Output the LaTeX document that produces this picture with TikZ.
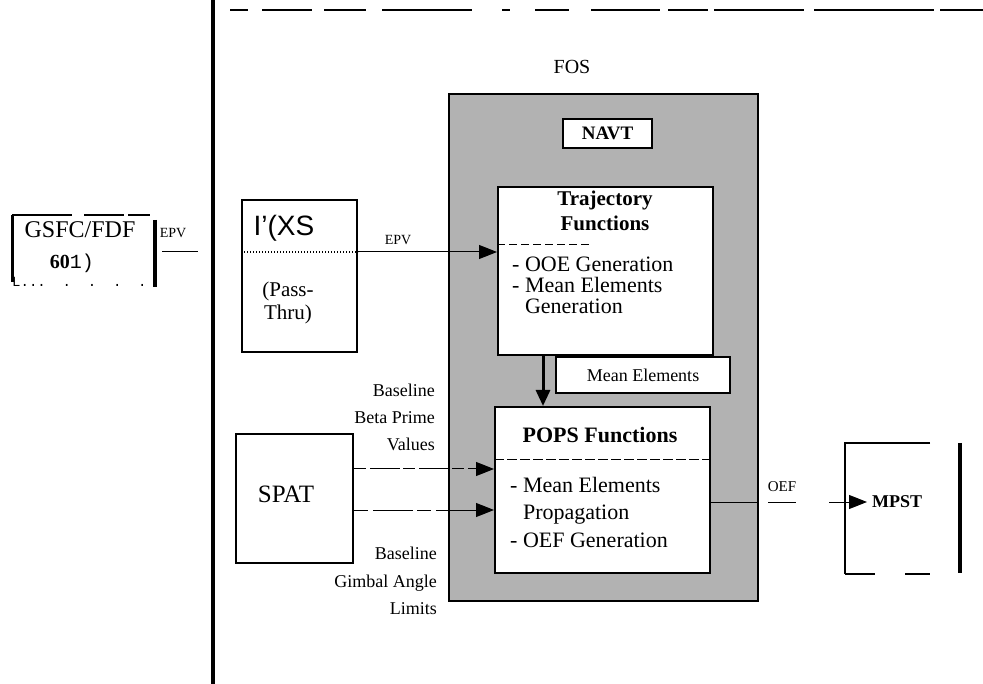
\documentclass[tikz,border=0pt]{standalone}
\usepackage{fontspec}
\setmainfont{Liberation Serif}
\setsansfont{Liberation Sans}
\setmonofont{Liberation Mono}
\usetikzlibrary{arrows.meta}
\newcommand\myfs[2]{\fontsize{#1}{#2}\selectfont}
\begin{document}
\begin{tikzpicture}[x=1pt,y=-1pt,
  shadebox/.style={draw, line width=2pt, fill=black!30, inner sep=0pt},
  whitebox/.style={draw, line width=2pt, fill=white, inner sep=0pt},
  txt/.style={inner sep=0pt},
  conn/.style={line width=1pt},
  bigtip/.style={-{Triangle[length=18pt,width=14pt]}},
  thickbar/.style={line width=3.5pt}
]
\fill[white] (0,0) rectangle (983,684);
\useasboundingbox (0,0) rectangle (983,684);

% frame lines
\coordinate (tl) at (230,10);
\coordinate (tm) at (600,10);
\coordinate (tr) at (983,10);
\draw[line width=1.4pt, dash pattern=on 18pt off 14pt on 50pt off 12pt on 42pt off 16pt on 90pt off 30pt on 8pt off 25pt on 34pt off 22pt]
  (tl) -- (tm);
\draw[line width=2pt, dash pattern=on 60pt off 8pt on 40pt off 6pt on 90pt off 10pt on 120pt off 6pt] (tm) -- (tr);
\coordinate (vt) at (213,0);
\coordinate (vb) at (213,684);
\draw[thickbar] (vt) -- (vb);

% title
\node[txt, font=\myfs{20}{22}] (fostitle) at (572,67) {FOS};

% big shaded box
\node[shadebox, anchor=north west, minimum width=309pt, minimum height=507pt] (fos) at (448,93) {};

\node[whitebox, minimum width=89pt, minimum height=29pt, font=\myfs{19}{21}\bfseries] (navt) at (607.5,133.5) {NAVT};

% trajectory box
\node[whitebox, minimum width=215pt, minimum height=168pt] (traj) at (605.5,271) {};
\node[txt, align=center, font=\myfs{21}{25}\bfseries] (trajt) at (605,211) {Trajectory\\Functions};
\node[txt, align=left, anchor=west, font=\myfs{22}{21}] (trajb) at (512,285) {- OOE Generation\\- Mean Elements\\\phantom{- }Generation};
\coordinate (tdiv) at (590,245);
\draw[conn, dash pattern=on 8pt off 4pt] (traj.west |- tdiv) -- (tdiv);

% mean elements label box
\node[whitebox, line width=1.5pt, minimum width=174pt, minimum height=36pt, font=\myfs{18}{20}] (meanel) at (643,375) {Mean Elements};

% pops box
\node[whitebox, minimum width=215pt, minimum height=166pt] (pops) at (602.5,490) {};
\node[txt, anchor=base, font=\myfs{22}{24}\bfseries] (popst) at (600,443) {POPS Functions};
\node[txt, align=left, anchor=west, font=\myfs{22}{27.5}] (popsb) at (510,512) {- Mean Elements\\\phantom{- }Propagation\\- OEF Generation};
\coordinate (pdiv) at (0,460);
\draw[conn, dash pattern=on 10pt off 3pt] (pops.west |- pdiv) -- (pops.east |- pdiv);

% arrow trajectory -> pops
\coordinate (dn) at (543,0);
\draw[line width=3pt, -{Triangle[length=16pt,width=14pt]}] (traj.south -| dn) -- (pops.north -| dn);

% I'(XS box
\node[whitebox, minimum width=115pt, minimum height=152pt] (ixs) at (299.5,276) {};
\node[txt, font=\sffamily\myfs{28}{30}] (ixst) at (284,228) {I'(XS};
\node[txt, align=center, font=\myfs{21}{23}] (pass) at (288,303) {(Pass-\\Thru)};
\coordinate (idiv) at (0,252);
\draw[conn, dotted, line width=1.3pt] (ixs.west |- idiv) -- (ixs.east |- idiv);

% EPV arrow
\draw[conn, bigtip] (ixs.east |- idiv) -- (traj.west |- idiv);
\node[txt, font=\myfs{14}{16}] (epv2) at (398,240) {EPV};

% GSFC box
\coordinate (gtl) at (12,215);
\coordinate (gbl) at (12,282);
\coordinate (gtr) at (150,215);
\coordinate (grt) at (155,220);
\coordinate (grb) at (155,287);
\draw[line width=3pt] (gbl) -- (gtl);
\draw[line width=1.5pt, dash pattern=on 60pt off 12pt on 40pt off 4pt] (gtl) -- (gtr);
\draw[thickbar] (grt) -- (grb);
\node[txt, font=\myfs{24}{26}] (gsfc) at (80,230) {GSFC/FDF};
\node[txt, font=\myfs{20}{22}] (gsfc2) at (72,263) {\textbf{60}\ttfamily 1)};
\node[txt, anchor=base west, font=\ttfamily\myfs{14}{16}] (gdots) at (12,287) {L...\ \ .\ \ .\ \ .\ \ .};
\node[txt, font=\myfs{14}{16}] (epv1) at (173,233) {EPV};
\coordinate (ga) at (162,252);
\coordinate (gb) at (198,252);
\draw[conn] (ga) -- (gb);

% SPAT box
\node[whitebox, minimum width=117pt, minimum height=129pt] (spat) at (294.5,498.5) {};
\node[txt, font=\myfs{25}{27}] (spatt) at (286,494.5) {SPAT};
\coordinate (s1) at (0,469);
\coordinate (s2) at (0,510);
\draw[conn, dash pattern=on 12pt off 4pt on 30pt off 3pt, bigtip] (spat.east |- s1) -- (pops.west |- s1);
\draw[conn, dash pattern=on 14pt off 5pt on 40pt off 4pt, bigtip] (spat.east |- s2) -- (pops.west |- s2);
\node[txt, align=right, anchor=east, font=\myfs{18}{27}] (beta) at (435,417) {Baseline\\Beta Prime\\Values};
\node[txt, align=right, anchor=east, font=\myfs{18}{27.5}] (gimbal) at (437,581) {Baseline\\Gimbal Angle\\Limits};

% MPST
\coordinate (mtr) at (930,443);
\coordinate (mtl) at (845,443);
\coordinate (mbl) at (845,574);
\coordinate (mbr) at (930,574);
\draw[line width=2pt] (mtr) -- (mtl) -- (mbl);
\draw[line width=1.5pt, dash pattern=on 30pt off 30pt on 25pt] (mbl) -- (mbr);
\coordinate (mrt) at (960,443);
\coordinate (mrb) at (960,573);
\draw[thickbar] (mrt) -- (mrb);
\node[txt, anchor=west, font=\myfs{18}{20}\bfseries] (mpst) at (872,502) {MPST};
\coordinate (o1) at (0,502);
\draw[conn, dash pattern=on 47pt off 10pt on 28pt off 33pt on 40pt, bigtip] (pops.east |- o1) -- ([xshift=-5pt]mpst.west);
\node[txt, font=\myfs{15}{17}] (oef) at (782,487) {OEF};
\end{tikzpicture}
\end{document}
